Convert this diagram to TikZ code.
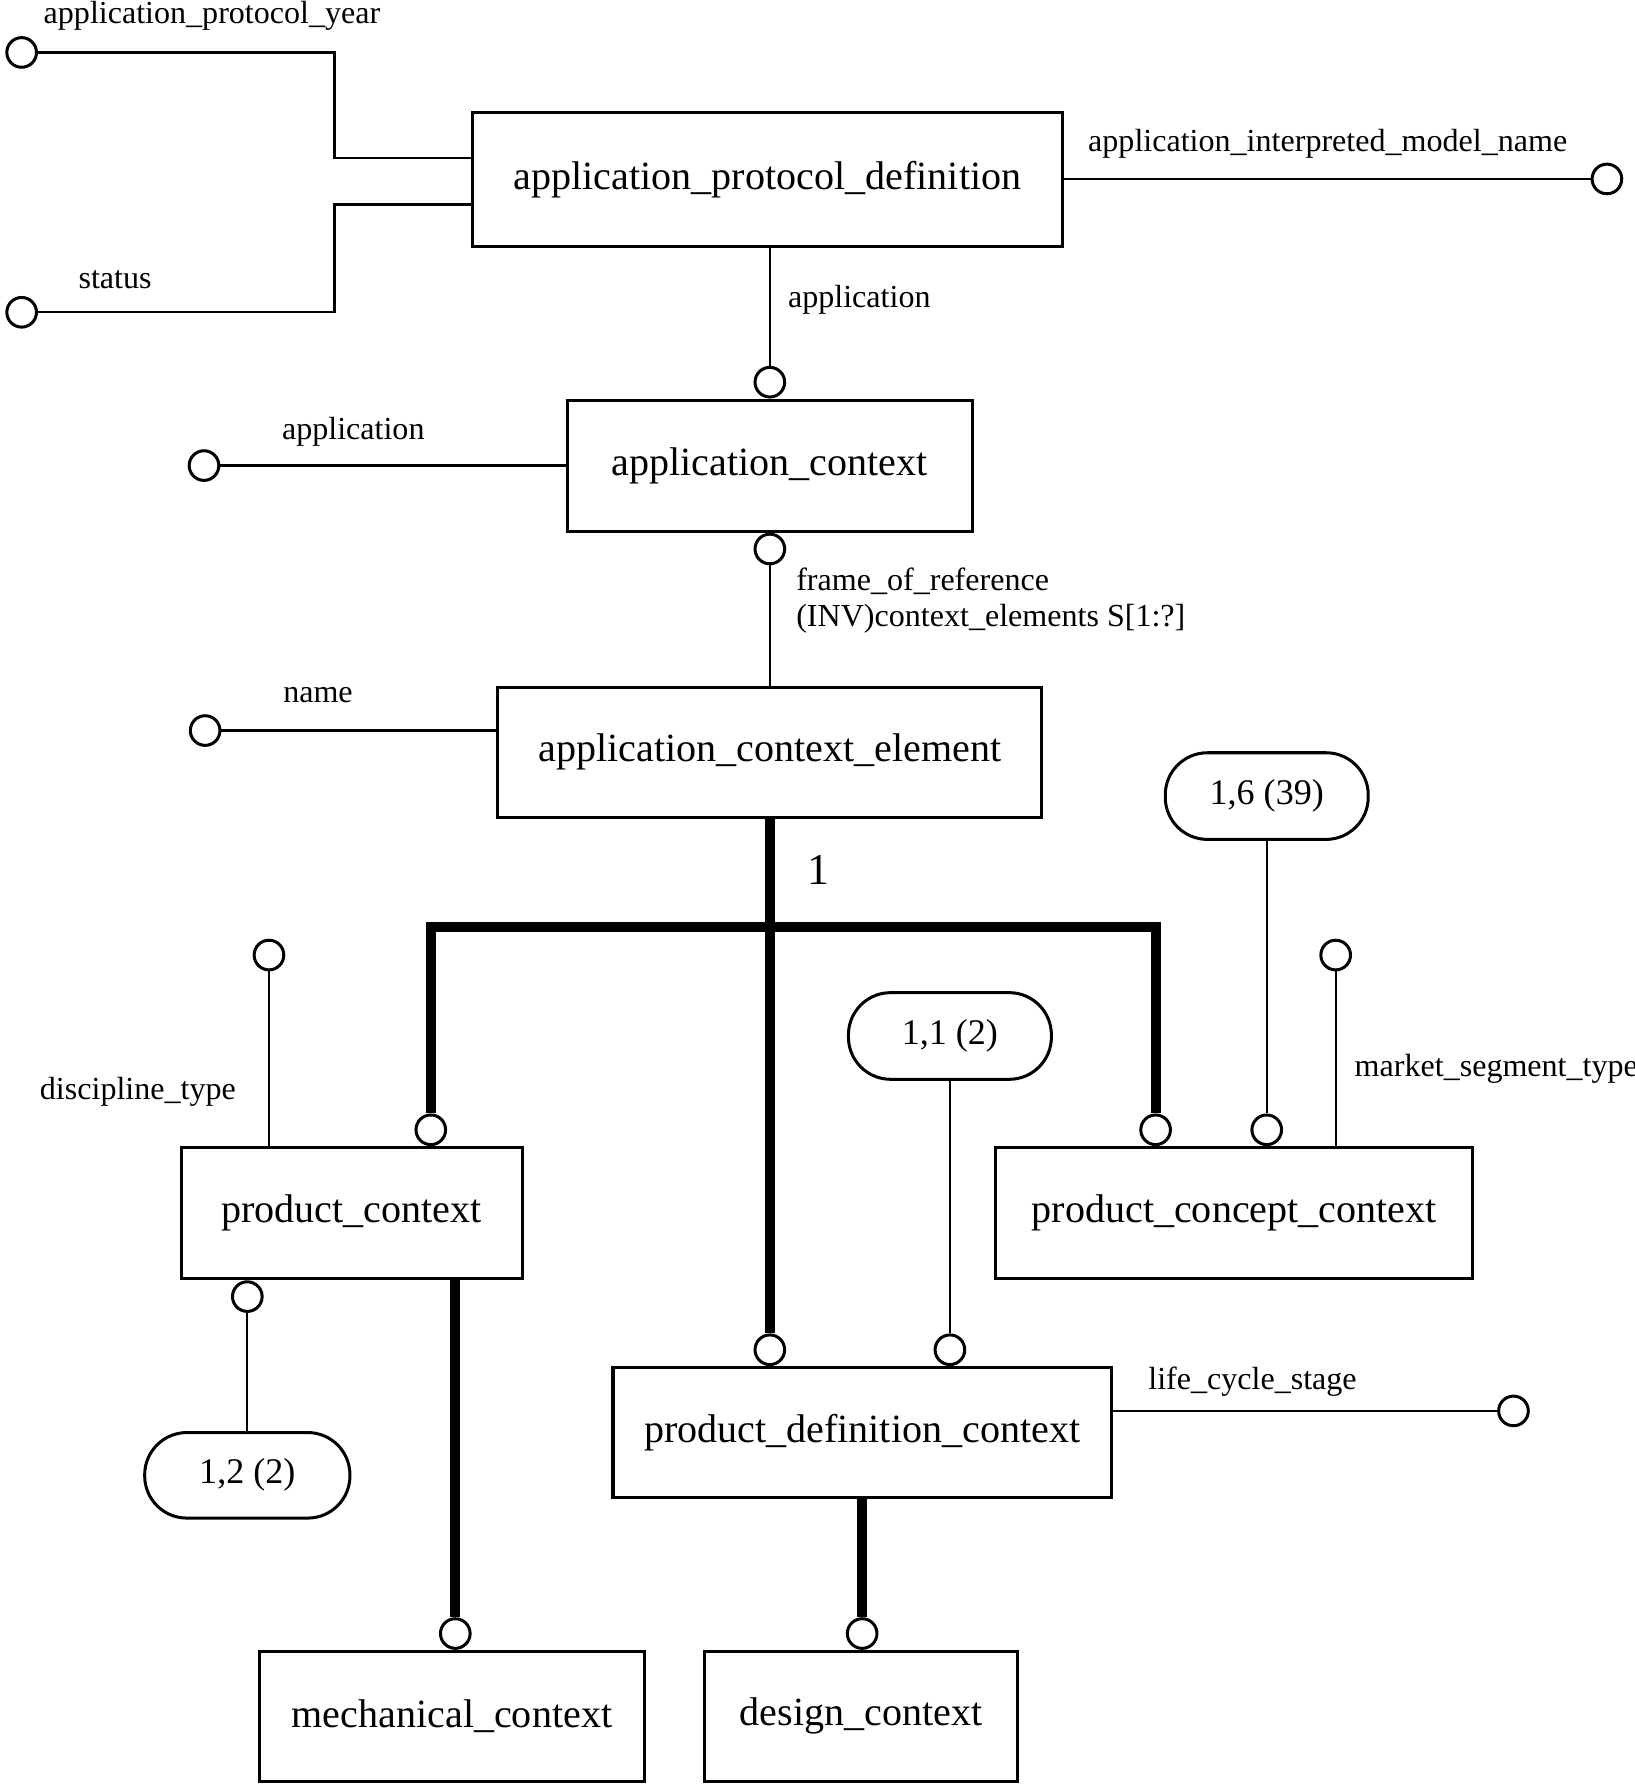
\documentclass[tikz,border=0pt]{standalone}
\usepackage{fontspec}
\setmainfont{Liberation Serif}
\usetikzlibrary{calc}
\tikzset{
  entity/.style={rectangle,draw=black,line width=0.75pt,align=center,inner sep=0pt,font=\fontsize{10}{12}\selectfont},
  tag/.style={rectangle,rounded corners=3.7mm,draw=black,line width=0.75pt,inner sep=0pt,minimum width=1.78cm,minimum height=0.76cm,font=\fontsize{9}{11}\selectfont},
  ring/.style={circle,draw=black,line width=0.75pt,minimum size=2.6mm,inner sep=0pt},
  lbl/.style={inner sep=0pt,font=\fontsize{8}{9.2}\selectfont},
  link/.style={line width=0.55pt},
  heavy/.style={line width=2.5pt}
}

\begin{document}
\begin{tikzpicture}[x=0.01cm,y=-0.01cm]
  \fill[white] (0,0) rectangle (1434,1568);
  \useasboundingbox (0,0) rectangle (1434,1568);
  \node[entity,minimum width=5.17cm,minimum height=1.17cm] (apd) at (673.5,157.5) {application\_protocol\_definition};
  \node[entity,minimum width=3.55cm,minimum height=1.15cm] (ac) at (675.5,408.5) {application\_context};
  \node[entity,minimum width=4.77cm,minimum height=1.14cm] (ace) at (675.5,660) {application\_context\_element};
  \node[entity,minimum width=2.99cm,minimum height=1.15cm] (pc) at (308.5,1064.5) {product\_context};
  \node[entity,minimum width=4.18cm,minimum height=1.15cm] (pcc) at (1083,1064.5) {product\_concept\_context};
  \node[entity,minimum width=4.37cm,minimum height=1.14cm] (pdc) at (756.5,1257) {product\_definition\_context};
  \node[entity,minimum width=3.37cm,minimum height=1.14cm] (mc) at (396.5,1506) {mechanical\_context};
  \node[entity,minimum width=2.75cm,minimum height=1.14cm] (dc) at (755.5,1506) {design\_context};
  \node[tag] (t16) at (1111.5,698.5) {1,6 (39)};
  \node[tag] (t11) at (833.5,909) {1,1 (2)};
  \node[tag,minimum width=1.8cm,minimum height=0.75cm] (t12) at (217,1294.5) {1,2 (2)};
  \coordinate (bar) at (675,813);
  \coordinate (barL) at (378,813);
  \coordinate (barR) at (1014,813);
  \node[ring] (yr) at (19,46) {};
  \node[ring] (st) at (19,274) {};
  \node[ring] (mn) at (1410,157) {};
  \node[ring,anchor=south] (acin) at (ac.north) {};
  \node[ring] (acapp) at (179,408.5) {};
  \node[ring,anchor=north] (acout) at (ac.south) {};
  \node[ring] (acename) at (180,641) {};
  \node[ring] (pcdisc) at (236,838) {};
  \node[ring,anchor=south] (pcin) at (pc.north -| barL) {};
  \node[ring,anchor=north] (pcout) at (pc.south -| t12.north) {};
  \node[ring,anchor=south] (pccin) at (pcc.north -| barR) {};
  \node[ring,anchor=south] (pccx) at (pcc.north -| t16.south) {};
  \node[ring] (pccmkt) at (1172,838) {};
  \node[ring,anchor=south] (pdcin) at (pdc.north -| ace.south) {};
  \node[ring,anchor=south] (pdcx) at (pdc.north -| t11.south) {};
  \node[ring] (pdclife) at (1328,1238) {};
  \node[ring,anchor=south] (mcin) at ($(mc.north)+(3,0)$) {};
  \node[ring,anchor=south] (dcin) at (dc.north -| pdc.south) {};
  \node[lbl] (lyr) at (186,14) {application\_protocol\_year};
  \node[lbl] (lst) at (101,245) {status};
  \node[lbl] (lmn) at (1165,126) {application\_interpreted\_model\_name};
  \node[lbl] (lapp) at (754,263) {application};
  \node[lbl] (lacapp) at (310,379) {application};
  \node[lbl,anchor=west,align=left] (lfor) at (698,527) {frame\_of\_reference\\(INV)context\_elements S[1:?]};
  \node[lbl] (lname) at (279,610) {name};
  \node[lbl] (ldisc) at (121,958) {discipline\_type};
  \node[lbl,anchor=west] (lmkt) at (1188,938) {market\_segment\_type};
  \node[lbl] (llife) at (1099,1212) {life\_cycle\_stage};
  \node[inner sep=0pt,font=\fontsize{11}{13}\selectfont] (lone) at (718,763) {1};
  \draw[link] (yr) -| ($(apd.west)+(-120,-19)$) -- ($(apd.west)+(0,-19)$);
  \draw[link] (st) -| ($(apd.west)+(-120,22)$) -- ($(apd.west)+(0,22)$);
  \draw[link] (apd.east |- mn) -- (mn);
  \draw[link] (acin |- apd.south) -- (acin);
  \draw[link] (acapp) -- (ac.west);
  \draw[link] (acout) -- (ace.north);
  \draw[link] (acename) -- (acename -| ace.west);
  \draw[heavy] (ace.south) -- (pdcin);
  \draw[heavy] (pcin) -- (pcin |- bar) -- (pccin |- bar) -- (pccin);
  \draw[link] (pcdisc) -- (pcdisc |- pc.north);
  \draw[link] (pcout) -- (t12);
  \draw[heavy] (mcin |- pc.south) -- (mcin);
  \draw[link] (t16) -- (pccx);
  \draw[link] (pccmkt) -- (pccmkt |- pcc.north);
  \draw[link] (t11) -- (pdcx);
  \draw[link] (pdc.east |- pdclife) -- (pdclife);
  \draw[heavy] (pdc.south) -- (dcin);
\end{tikzpicture}
\end{document}
